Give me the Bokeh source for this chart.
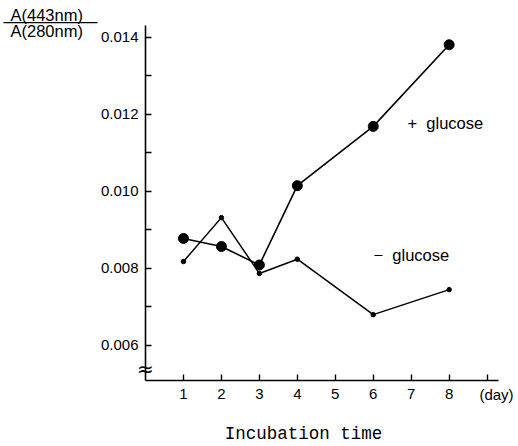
from bokeh.plotting import figure
from bokeh.models import Range1d, FixedTicker, Label, BoxAnnotation, NumeralTickFormatter
from bokeh.core.properties import value
from bokeh.embed import file_html
from bokeh.resources import INLINE

# ---- data ----
days = [1, 2, 3, 4, 6, 8]
plus_glucose = [0.00878, 0.00857, 0.00809, 0.01015, 0.01169, 0.01381]
minus_glucose = [0.00818, 0.00932, 0.00787, 0.00824, 0.00680, 0.00745]
x_ticks = [1, 2, 3, 4, 5, 6, 7, 8, 9]
x_tick_labels = {9: ""}
y_ticks = [0.006, 0.008, 0.010, 0.012, 0.014]
y_minor_ticks = [0.007, 0.009, 0.011, 0.013]
x_axis_min, x_axis_max = 0.0, 9.3
y_axis_min, y_axis_max = 0.00509, 0.01431
break_y = [0.0054]
break_x = [0.0]

SANS = "Liberation Sans"
MONO = "Liberation Mono"

W, H = 518, 446
# where the axes sit on the canvas (layout)
AX_LEFT, AX_RIGHT, AX_TOP, AX_BOTTOM = 145, 498, 25, 380
sx = (AX_RIGHT - AX_LEFT) / (x_axis_max - x_axis_min)
sy = (AX_BOTTOM - AX_TOP) / (y_axis_max - y_axis_min)
x_range = Range1d(x_axis_min - AX_LEFT / sx, x_axis_max + (W - AX_RIGHT) / sx)
y_range = Range1d(y_axis_min - (H - AX_BOTTOM) / sy, y_axis_max + AX_TOP / sy)

p = figure(width=W, height=H, output_backend="svg", toolbar_location=None,
           x_range=x_range, y_range=y_range,
           min_border=0, min_border_left=0, min_border_right=0,
           min_border_top=0, min_border_bottom=0)
p.title.visible = False
p.outline_line_color = None
p.grid.visible = False
p.background_fill_color = "white"
p.border_fill_color = "white"

# x axis
xa = p.xaxis[0]
xa.fixed_location = y_axis_min
xa.bounds = (x_axis_min, x_axis_max)
xa.ticker = FixedTicker(ticks=x_ticks)
xa.major_label_overrides = x_tick_labels
xa.axis_line_width = 1.6
xa.axis_line_color = "black"
xa.major_tick_in = 6
xa.major_tick_out = 0
xa.major_tick_line_width = 1.4
xa.minor_tick_line_color = None
xa.major_label_text_font = SANS
xa.major_label_text_font_size = "15px"
xa.major_label_text_color = "black"
xa.major_label_standoff = 8

# y axis
ya = p.yaxis[0]
ya.fixed_location = x_axis_min
ya.bounds = (y_axis_min, y_axis_max)
ya.ticker = FixedTicker(ticks=y_ticks, minor_ticks=y_minor_ticks)
ya.formatter = NumeralTickFormatter(format="0.000")
ya.axis_line_width = 1.6
ya.axis_line_color = "black"
ya.major_tick_in = 6
ya.major_tick_out = 0
ya.minor_tick_in = 6
ya.minor_tick_out = 0
ya.major_tick_line_width = 1.3
ya.minor_tick_line_width = 1.3
ya.minor_tick_line_color = "black"
ya.major_label_text_font = SANS
ya.major_label_text_font_size = "15px"
ya.major_label_text_color = "black"
ya.major_label_standoff = 7

# data
p.line(days, plus_glucose, line_color="black", line_width=1.6)
p.scatter(days, plus_glucose, size=10, fill_color="black", line_color="black")
p.line(days, minus_glucose, line_color="black", line_width=1.5)
p.scatter(days, minus_glucose, size=4.5, fill_color="black", line_color="black")

# axis break mark
p.text(x=break_x, y=break_y, text=["\u2248"], text_font=value("DejaVu Sans"),
       text_font_size="20px", text_align="center", text_baseline="middle",
       text_color="black")

# annotations
def lab(x, y, t, font=SANS, size="15px", align="left", baseline="alphabetic"):
    p.add_layout(Label(x=x, y=y, x_units="canvas", y_units="canvas", text=t,
                       text_font=font, text_font_size=size, text_align=align,
                       text_baseline=baseline, text_color="black"))

lab(10, 14.5, "A(443nm)", size="16.5px")
lab(10, 30, "A(280nm)", size="16.5px")
p.add_layout(BoxAnnotation(left=3, right=97, top=21.5, bottom=22.8,
                           left_units="canvas", right_units="canvas",
                           top_units="canvas", bottom_units="canvas",
                           fill_color="black", fill_alpha=1, line_color=None))
lab(407, 122, "+\u00a0\u00a0glucose", size="16.5px")
lab(373, 254, "\u2212\u00a0\u00a0glucose", size="16.5px")
lab(496, 394, "(day)", size="15px", align="center")
lab(303, 433, "Incubation time", font=MONO, size="17.5px", align="center")

open("out.html", "w").write(file_html(p, INLINE))
